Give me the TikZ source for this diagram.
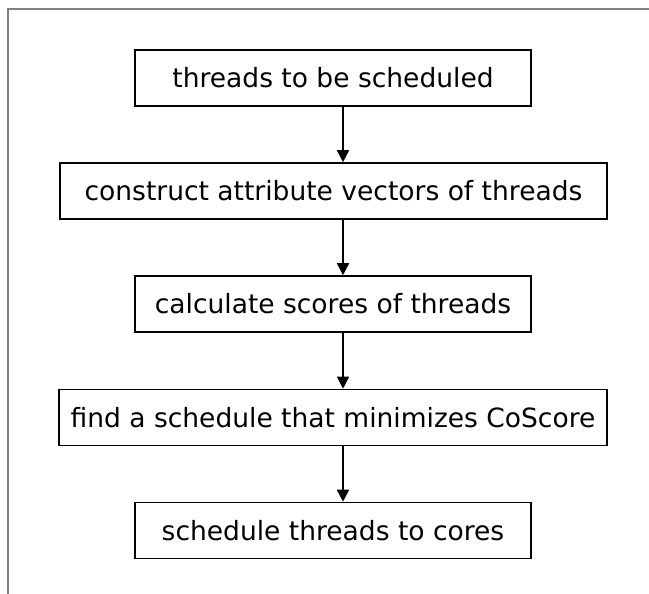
\documentclass[tikz,border=0pt]{standalone}
\usepackage{fontspec}
\setmainfont{DejaVu Sans}
\usetikzlibrary{arrows.meta}
\begin{document}
\begin{tikzpicture}[x=1pt,y=-1pt,
  stepbox/.style={draw=black,line width=1.6pt,minimum height=56pt,inner sep=0pt,
    font=\fontsize{26.5}{30}\selectfont},
  flow/.style={line width=1.6pt,-{Triangle[width=12pt,length=12pt]}},
  frameline/.style={draw=gray,line width=1.8pt}]
  \useasboundingbox (0,0) rectangle (649,594);
  % outer frame: top and left edges
  \coordinate (fc) at (8,9);
  \coordinate (ft) at (649,9);
  \coordinate (fb) at (8,594);
  \draw[frameline] (ft) -- (fc) -- (fb);
  % process steps
  \node[stepbox,minimum width=396pt] (s1) at (333,78) {threads to be scheduled};
  \node[stepbox,minimum width=547pt] (s2) at (333.5,191) {construct attribute vectors of threads};
  \node[stepbox,minimum width=396pt] (s3) at (333,304) {calculate scores of threads};
  \node[stepbox,minimum width=548pt] (s4) at (333,417.5) {find a schedule that minimizes CoScore};
  \node[stepbox,minimum width=396pt] (s5) at (333,530.5) {schedule threads to cores};
  % arrows run down a common vertical
  \coordinate (ax) at (343,0);
  \draw[flow] (s1.south -| ax) -- (s2.north -| ax);
  \draw[flow] (s2.south -| ax) -- (s3.north -| ax);
  \draw[flow] (s3.south -| ax) -- (s4.north -| ax);
  \draw[flow] (s4.south -| ax) -- (s5.north -| ax);
\end{tikzpicture}
\end{document}
